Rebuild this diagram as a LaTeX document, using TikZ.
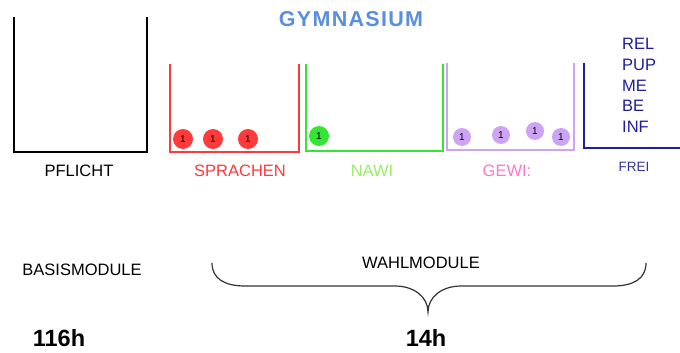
\documentclass[tikz,border=0pt]{standalone}
\usepackage{fontspec}
\setmainfont{Liberation Sans}
\begin{document}
\begin{tikzpicture}[x=1pt,y=-1pt,
  ubox/.style={line width=1.4pt},
  lbl/.style={font=\fontsize{16.5}{19}\selectfont, inner sep=0pt},
  ball/.style={circle, minimum size=20pt, inner sep=0pt, font=\fontsize{10}{10}\selectfont},
  pball/.style={ball, minimum size=18pt, fill=lav}]
\definecolor{gymblue}{HTML}{5B8FDD}
\definecolor{sred}{HTML}{FF3A3A}
\definecolor{sgreen}{HTML}{33E633}
\definecolor{lav}{HTML}{CDA4F5}
\definecolor{navy}{HTML}{1F1F99}
\definecolor{nawitxt}{HTML}{99EE66}
\definecolor{gewitxt}{HTML}{FF77CC}
\definecolor{freitxt}{HTML}{333399}
\useasboundingbox (0,0) rectangle (680,353);
\fill[white] (0,0) rectangle (680,353);
% title
\node[inner sep=0pt, text=gymblue, font=\fontsize{21.5}{24}\selectfont\bfseries\addfontfeature{LetterSpace=6}] (title) at (351,19) {GYMNASIUM};
% boxes
\draw[ubox, black] (14,17) -- (14,152) -- (147,152) -- (147,17);
\draw[ubox, sred] (170,64) -- (170,152) -- (299,152) -- (299,64);
\draw[ubox, sgreen] (306,64) -- (306,151) -- (443,151) -- (443,64);
\draw[ubox, lav] (447,63) -- (447,150) -- (574,150) -- (574,63);
\draw[ubox, navy] (584,63) -- (584,148) -- (680,148);
% balls
\node[ball, fill=sred] (r1) at (183,139) {1};
\node[ball, fill=sred] (r2) at (213,139) {1};
\node[ball, fill=sred] (r3) at (248,139) {1};
\node[ball, fill=sgreen] (g1) at (319,136) {1};
\node[pball] (p1) at (462,137) {1};
\node[pball] (p2) at (501,135) {1};
\node[pball] (p3) at (535,131) {1};
\node[pball] (p4) at (561,137) {1};
% labels
\node[lbl] (pflicht) at (79,171) {PFLICHT};
\node[lbl, text=sred] (sprachen) at (240,171) {SPRACHEN};
\node[lbl, text=nawitxt] (nawi) at (372,171) {NAWI};
\node[lbl, text=gewitxt] (gewi) at (507,171) {GEWI:};
\node[lbl, text=freitxt, font=\fontsize{13.5}{16}\selectfont] (frei) at (634,167) {FREI};
\node[lbl, text=navy, anchor=north west, align=left, font=\fontsize{16.5}{20.8}\selectfont] (frl) at (622,38) {REL\\PUP\\ME\\BE\\INF};
% bottom
\node[lbl, font=\fontsize{16.5}{19}\selectfont] (basis) at (82,270) {BASISMODULE};
\node[lbl, font=\fontsize{16.5}{19}\selectfont] (wahl) at (421,263) {WAHLMODULE};
\node[lbl, font=\fontsize{23.5}{26}\selectfont\bfseries] (h116) at (59,338) {116h};
\node[lbl, font=\fontsize{23.5}{26}\selectfont\bfseries] (h14) at (426,338) {14h};
% brace
\draw[line width=1.2pt, black!80] (212,263) .. controls (212,279) and (225,286) .. (245,286) -- (395,286)
  .. controls (414,286) and (428,297) .. (428,312)
  .. controls (428,297) and (442,286) .. (461,286) -- (613,286)
  .. controls (633,286) and (646,279) .. (646,263);
\end{tikzpicture}
\end{document}
